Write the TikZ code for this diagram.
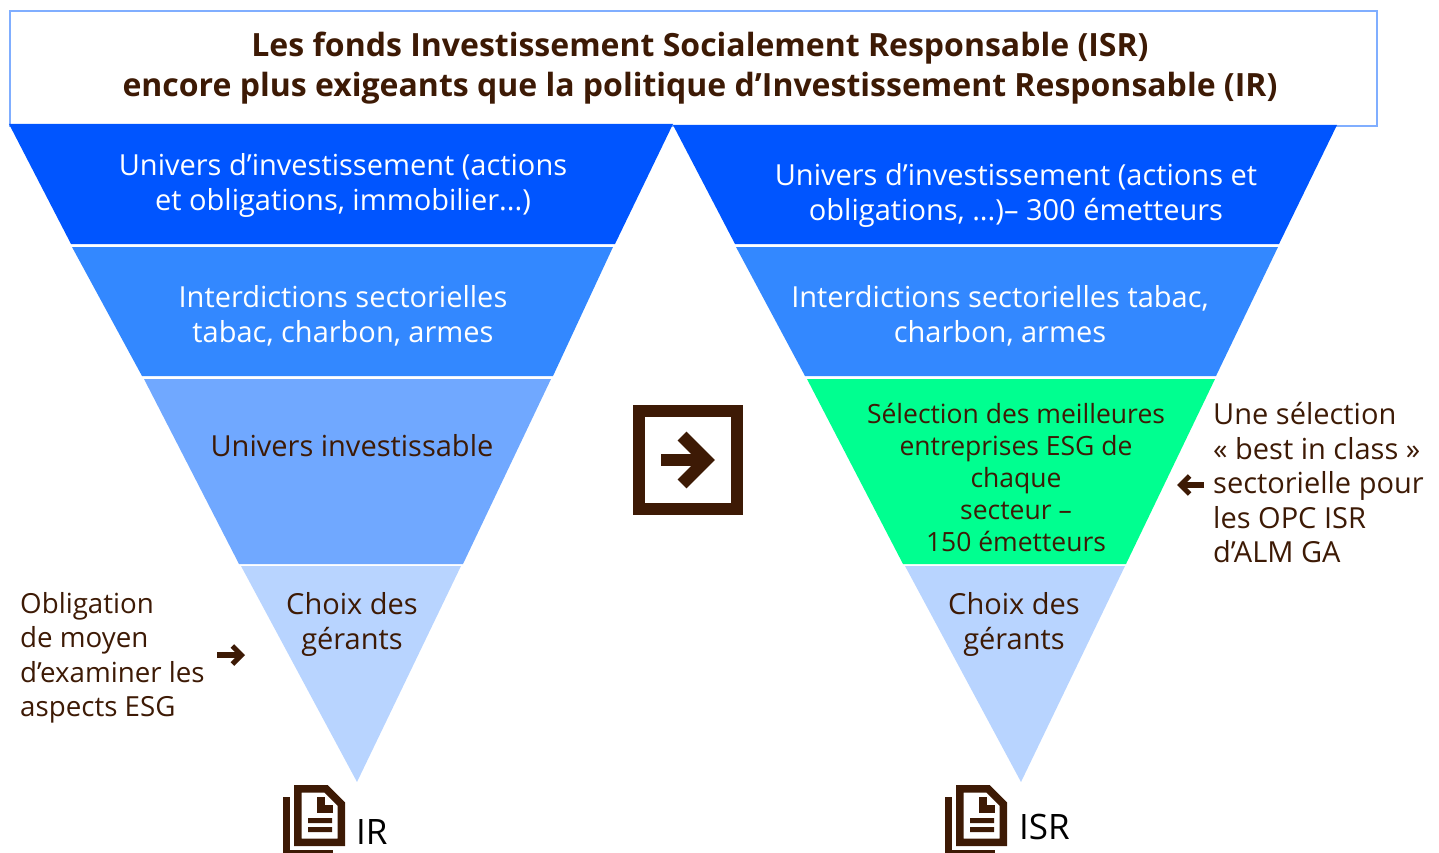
\documentclass[tikz,border=0pt]{standalone}
\usepackage{fontspec}
\setmainfont{Open Sans}
\usetikzlibrary{arrows.meta,positioning}

\definecolor{brun}{HTML}{3D1A05}
\definecolor{bleuA}{HTML}{0055FF}
\definecolor{bleuB}{HTML}{3388FF}
\definecolor{bleuC}{HTML}{70A8FF}
\definecolor{bleuD}{HTML}{B8D4FF}
\definecolor{vert}{HTML}{00FF90}
\definecolor{cadre}{HTML}{80AEFF}

\begin{document}
\begin{tikzpicture}[
  x=1pt, y=-1pt,
  lbl/.style={align=center, inner sep=0pt, text=brun, font=\fontsize{29}{35}\selectfont},
  lblw/.style={lbl, text=white},
  note/.style={align=left, inner sep=0pt, text=brun, font=\fontsize{29}{34.5}\selectfont},
  arr/.style={-{Straight Barb[length=9pt,width=18pt,line width=5pt]}, line width=5.5pt, brun},
  docicon/.pic={
    \draw[brun, line width=7.5pt, miter limit=10] (3.75,3.75) -- (3.75,57.25) -- (47.25,57.25) -- (47.25,19) -- (32,3.75) -- cycle;
    \draw[brun, line width=7.5pt] (27,12) -- (27,24) -- (39,24);
    \fill[brun] (14,33) rectangle (38,38) (14,42) rectangle (38,47);
    \draw[brun, line width=7pt] (-8,12) -- (-8,68) -- (39,68);
  }
]
\useasboundingbox (0,0) rectangle (1439,853);

% cadre du titre
\node[draw=cadre, line width=2pt, minimum width=1367pt, minimum height=115pt, inner sep=0pt] (cadre) at (693,69) {};
\node[align=center, inner sep=0pt, text=brun, font=\fontsize{32}{40.5}\selectfont\bfseries] (titre) at (700,68) {Les fonds Investissement Socialement Responsable (ISR)\\encore plus exigeants que la politique d’Investissement Responsable (IR)};

% entonnoir de gauche
\fill[bleuA] (9,124) -- (673,124) -- (615,244) -- (71,244) -- cycle;
\fill[bleuB] (72,247) -- (613,247) -- (553,376) -- (142,376) -- cycle;
\fill[bleuC] (144,379) -- (551,379) -- (463,564) -- (239,564) -- cycle;
\fill[bleuD] (241,566) -- (461,566) -- (357,782) -- cycle;

% entonnoir de droite
\fill[bleuA] (673,125) -- (1337,125) -- (1279,244) -- (735,244) -- cycle;
\fill[bleuB] (736,247) -- (1278,247) -- (1216,376) -- (805,376) -- cycle;
\fill[vert] (807,379) -- (1215,379) -- (1126,564) -- (903,564) -- cycle;
\fill[bleuD] (905,566) -- (1125,566) -- (1021,782) -- cycle;

\node[lblw] (univG) at (343,185) {Univers d’investissement (actions\\et obligations, immobilier...)};
\node[lblw] (interG) at (343,316) {Interdictions sectorielles\\tabac, charbon, armes};
\node[lbl] (investG) at (352,446) {Univers investissable};
\node[lbl] (choixG) at (352,624) {Choix des\\gérants};

\node[lblw] (univD) at (1016,195.5) {Univers d’investissement (actions et\\obligations, ...)– 300 émetteurs};
\node[lblw] (interD) at (1000,316) {Interdictions sectorielles tabac,\\charbon, armes};
\node[lbl, font=\fontsize{26.5}{32}\selectfont] (selD) at (1016,477) {Sélection des meilleures\\entreprises ESG de\\chaque\\secteur –\\150 émetteurs};
\node[lbl] (choixD) at (1014,624) {Choix des\\gérants};

% notes et petites flèches
\node[note, anchor=west, font=\fontsize{27.7}{34.5}\selectfont] (oblig) at (20,658) {Obligation\\de moyen\\d’examiner les\\aspects ESG};
\node[note, anchor=west] (best) at (1213,483) {Une sélection\\« best in class »\\sectorielle pour\\les OPC ISR\\d’ALM GA};
\coordinate (obligA) at (217,655);
\coordinate (obligB) at (245,655);
\coordinate (bestA) at (1204,485);
\coordinate (bestB) at (1177,485);
\draw[arr] (obligA) -- (obligB);
\draw[arr] (bestA) -- (bestB);

% flèche centrale
\node[draw=brun, line width=12pt, minimum size=98pt, inner sep=0pt] (carre) at (687.5,460) {};
\coordinate (flecheA) at (661,460);
\coordinate (flecheB) at (706,460);
\draw[brun, line width=12.5pt] (flecheA) -- (flecheB);
\draw[brun, line width=12.5pt, miter limit=10] (682,436) -- (706,460) -- (682,484);

% icones
\pic at (294,785) {docicon};
\pic at (956,785) {docicon};
\node[inner sep=0pt, anchor=base west, text=black, font=\fontsize{35}{40}\selectfont] (ir) at (356,844) {IR};
\node[inner sep=0pt, anchor=base west, text=black, font=\fontsize{35}{40}\selectfont] (isr) at (1019,839) {ISR};
\end{tikzpicture}
\end{document}
